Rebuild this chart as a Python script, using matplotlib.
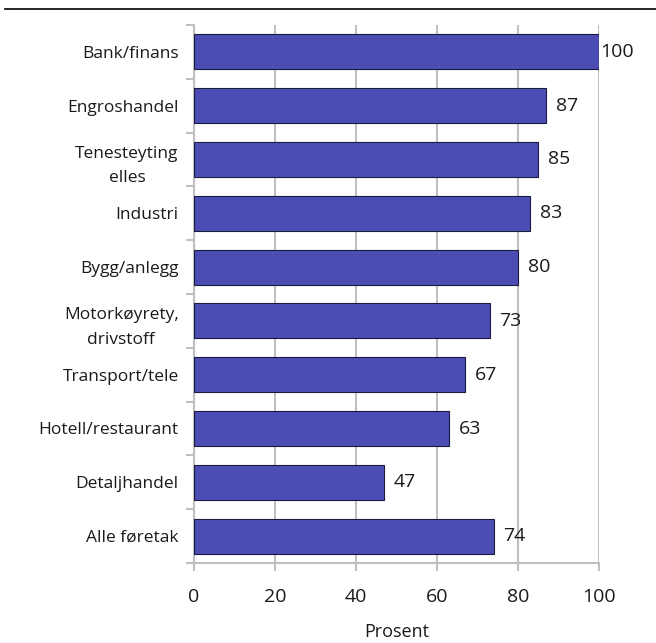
import matplotlib
matplotlib.use("Agg")
import matplotlib.pyplot as plt
from matplotlib.lines import Line2D

categories = ["Bank/finans", "Engroshandel", "Tenesteyting\nelles", "Industri",
              "Bygg/anlegg", "Motorkøyrety,\ndrivstoff", "Transport/tele",
              "Hotell/restaurant", "Detaljhandel", "Alle føretak"]
values = [100, 87, 85, 83, 80, 73, 67, 63, 47, 74]
xticks = [0, 20, 40, 60, 80, 100]
xlabel = "Prosent"

plt.rcParams['font.family'] = ['Open Sans', 'DejaVu Sans']
fig = plt.figure(figsize=(6.56, 6.43), dpi=100)
ax = fig.add_axes([194/656, 1-563/643, 405/656, 538/643])

pos = list(range(len(categories)))
ax.barh(pos, values, height=0.65, color="#4b4db5", edgecolor="#1a1a40", linewidth=0.8, zorder=3)
ax.set_ylim(len(categories)-0.5, -0.5)
ax.set_xlim(0, 100)
ax.set_xticks(xticks)
ax.set_xticklabels([str(t) for t in xticks], fontsize=14, color="#1a1a1a")
ax.set_yticks(pos)
ax.set_yticklabels(categories, fontsize=12.5, linespacing=1.75, color="#1a1a1a",
                   multialignment="center")
ax.set_yticks([p + 0.5 for p in pos[:-1]] + [-0.5, len(categories)-0.5], minor=True)
ax.tick_params(axis='y', which='major', length=0, pad=11)
ax.tick_params(axis='y', which='minor', length=6, color="#c0c0c0", width=1.5)
ax.tick_params(axis='x', length=6, color="#c0c0c0", width=1.5, pad=12)
ax.grid(axis='x', color="#c0c0c0", linewidth=1.5, zorder=0)
for s in ["top", "right"]:
    ax.spines[s].set_visible(False)
for s in ["left", "bottom"]:
    ax.spines[s].set_color("#c0c0c0")
    ax.spines[s].set_linewidth(1.5)
ax.set_xlabel(xlabel, fontsize=13, labelpad=12, color="#1a1a1a")

for p, v in zip(pos, values):
    off = 1 if v >= 100 else 7
    ax.annotate(str(v), (v, p), xytext=(off, 0), textcoords="offset points",
                va="center", ha="left", fontsize=14, color="#1a1a1a", clip_on=False)

fig.add_artist(Line2D([5/656, 1], [1-9/643, 1-9/643], color="black", linewidth=1.2))
fig.savefig("out.png", dpi=100)
